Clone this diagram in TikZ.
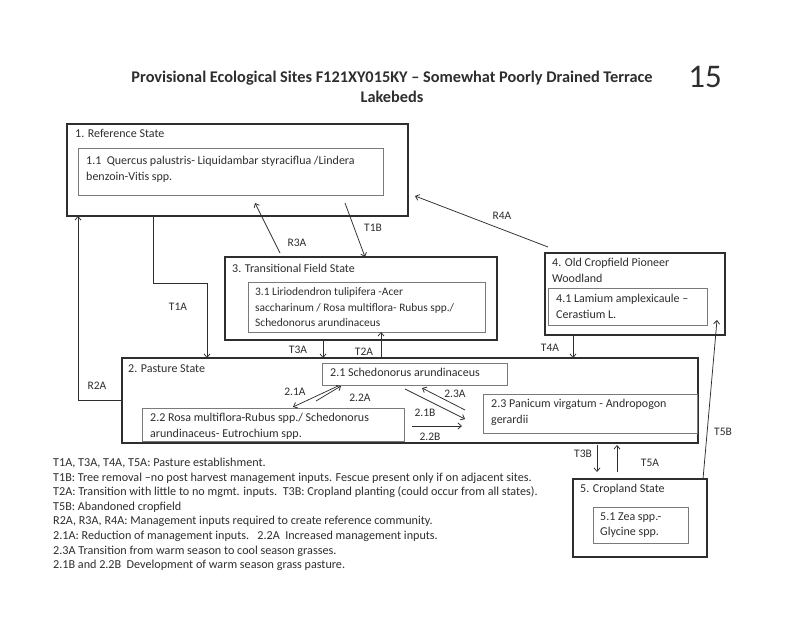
\documentclass[tikz,border=0pt]{standalone}
\usepackage{fontspec}
\setmainfont{Carlito}
\usetikzlibrary{arrows.meta,calc}
\definecolor{ink}{HTML}{2E2E2E}
\definecolor{innerline}{HTML}{7A7A7A}
\begin{document}
\begin{tikzpicture}[x=1pt,y=-1pt,
  outerbox/.style={draw=ink,line width=1.4pt,inner sep=0pt,outer sep=0pt,anchor=north west},
  innerbox/.style={draw=innerline,line width=0.9pt,inner sep=0pt,outer sep=0pt,anchor=north west},
  txt/.style={text=ink,font=\fontsize{12}{15.5}\selectfont,inner sep=0pt,anchor=north west,align=left},
  lbl/.style={text=ink,font=\fontsize{11.5}{13}\selectfont,inner sep=0pt},
  conn/.style={draw=ink,line width=0.75pt,-{Straight Barb[length=3.5pt,width=6pt]}}]
\useasboundingbox[fill=white] (0,0) rectangle (800,617);
% title
\node[text=ink,font=\bfseries\fontsize{16.3}{20}\selectfont,align=center,inner sep=0pt] (title) at (392,87)
  {Provisional Ecological Sites F121XY015KY -- Somewhat Poorly Drained Terrace\\Lakebeds};
\node[text=ink,font=\fontsize{33}{36}\selectfont,inner sep=0pt] (pageno) at (705,77) {15};
% boxes
\node[outerbox,minimum width=341,minimum height=92] (ref) at (67,124) {};
\node[innerbox,minimum width=305,minimum height=47] (ref11) at (78,148) {};
\node[outerbox,minimum width=272,minimum height=83] (trans) at (225,257) {};
\node[innerbox,minimum width=237,minimum height=50] (trans31) at (248,282) {};
\node[outerbox,minimum width=180,minimum height=82] (old) at (545,253) {};
\node[innerbox,minimum width=159,minimum height=37] (old41) at (548,288) {};
\node[outerbox,minimum width=576,minimum height=85] (past) at (122,358) {};
\node[innerbox,minimum width=185,minimum height=22] (p21) at (322,363) {};
\node[innerbox,minimum width=262,minimum height=33] (p22) at (142,408) {};
\node[innerbox,minimum width=214,minimum height=39] (p23) at (483,394) {};
\node[outerbox,minimum width=134,minimum height=78] (crop) at (573,479) {};
\node[innerbox,minimum width=95,minimum height=36] (crop51) at (593,507) {};
% box texts
\node[txt] (tref) at (75,129.4) {1. Reference State};
\node[txt] (tref11) at (86,156.4) {1.1\ \ Quercus palustris- Liquidambar styraciflua /Lindera\\benzoin-Vitis spp.};
\node[txt] (ttrans) at (232,264.4) {3. Transitional Field State};
\node[txt,font=\fontsize{11.4}{15.5}\selectfont] (ttrans31) at (255,287.6) {3.1 Liriodendron tulipifera -Acer\\saccharinum / Rosa multiflora- Rubus spp./\\Schedonorus arundinaceus};
\node[txt] (told) at (552,258.4) {4. Old Cropfield Pioneer\\Woodland};
\node[txt] (told41) at (556,294.4) {4.1 Lamium amplexicaule --\\Cerastium L.};
\node[txt] (tpast) at (128,364.4) {2. Pasture State};
\node[txt] (tp21) at (330,368.4) {2.1 Schedonorus arundinaceus};
\node[txt] (tp22) at (150,413.4) {2.2 Rosa multiflora-Rubus spp./ Schedonorus\\arundinaceus- Eutrochium spp.};
\node[txt] (tp23) at (491,399.4) {2.3 Panicum virgatum - Andropogon\\gerardii};
\node[txt] (tcrop) at (580,484.4) {5. Cropland State};
\node[txt] (tcrop51) at (600,512.4) {5.1 Zea spp.-\\Glycine spp.};
% connectors between states
\draw[conn] ($(ref.south west)+(86,0)$) -- ++(0,67) -| ($(past.north west)+(85,0)$);
\draw[conn] ($(past.north west)+(0,42)$) -| ($(ref.south west)+(11,0)$);
\draw[conn] ($(trans.north west)+(55,-4)$) -- ($(ref11.south west)+(177,8)$);
\draw[conn] ($(ref11.south west)+(267,8)$) -- ($(trans.north west)+(140,0)$);
\draw[conn] ($(old.north west)+(3,-6)$) -- ($(ref.south east)+(7,-20)$);
\draw[conn] ($(trans.south west)+(98,0)$) -- ($(past.north west)+(201,0)$);
\draw[conn] ($(past.north west)+(259,0)$) -- ($(trans31.south west)+(133,0)$);
\draw[conn] ($(old.south west)+(28,0)$) -- ($(past.north west)+(451,0)$);
\draw[conn] ($(past.south west)+(475,2)$) -- ($(crop.north west)+(24,-7)$);
\draw[conn] ($(crop.north west)+(44,-7)$) -- ($(past.south west)+(495,2)$);
\draw[conn] ($(crop.north east)+(-4,0)$) -- ($(old41.south east)+(10,-5)$);
% connectors inside pasture state
\draw[conn] ($(p21.south west)+(16,1)$) -- ($(p22.north west)+(151,-1)$);
\draw[conn] ($(p22.north west)+(174,-7)$) -- ($(p21.south west)+(19,1)$);
\draw[conn] ($(p23.north west)+(-18,16)$) -- ($(p21.south east)+(-85,3)$);
\draw[conn] ($(p21.south east)+(-102,4)$) -- ($(p23.north west)+(-18,25)$);
\draw[conn] ($(p22.north east)+(8,18)$) -- ($(p23.north west)+(-21,32)$);
% connector labels
\node[lbl] (lT1A) at (178,307) {T1A};
\node[lbl] (lR2A) at (97,386) {R2A};
\node[lbl] (lR3A) at (297,243) {R3A};
\node[lbl] (lT1B) at (373,228) {T1B};
\node[lbl] (lR4A) at (502,216) {R4A};
\node[lbl] (lT3A) at (298,350) {T3A};
\node[lbl] (lT2A) at (364,352) {T2A};
\node[lbl] (lT4A) at (550,348) {T4A};
\node[lbl] (lT3B) at (583,454) {T3B};
\node[lbl] (lT5A) at (650,463) {T5A};
\node[lbl] (lT5B) at (723,432) {T5B};
\node[lbl] (l21A) at (295,392) {2.1A};
\node[lbl] (l22A) at (360,398) {2.2A};
\node[lbl] (l23A) at (455,394) {2.3A};
\node[lbl] (l21B) at (425,413) {2.1B};
\node[lbl] (l22B) at (430,437) {2.2B};
% legend
\node[txt,font=\fontsize{12.15}{14.6}\selectfont] (legend) at (53,457.8) {T1A, T3A, T4A, T5A: Pasture establishment.\\
T1B: Tree removal --no post harvest management inputs. Fescue present only if on adjacent sites.\\
T2A: Transition with little to no mgmt. inputs.\ \ T3B: Cropland planting (could occur from all states).\\
T5B: Abandoned cropfield\\
R2A, R3A, R4A: Management inputs required to create reference community.\\
2.1A: Reduction of management inputs.\ \ \ 2.2A\ \ Increased management inputs.\\
2.3A Transition from warm season to cool season grasses.\\
2.1B and 2.2B\ \ Development of warm season grass pasture.};
\end{tikzpicture}
\end{document}
